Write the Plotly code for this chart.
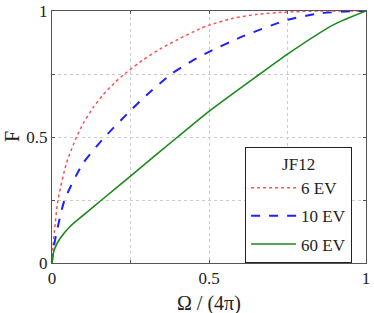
import plotly.graph_objects as go

x_6ev = [0, 0.003, 0.008, 0.019, 0.046, 0.078, 0.1, 0.13, 0.163, 0.2, 0.232, 0.29, 0.344, 0.402, 0.47, 0.5, 0.577, 0.65, 0.735, 0.85, 1]
y_6ev = [0, 0.06, 0.13, 0.25, 0.396, 0.5, 0.555, 0.615, 0.668, 0.716, 0.751, 0.806, 0.849, 0.888, 0.929, 0.944, 0.971, 0.986, 0.995, 1, 1]

x_10ev = [0, 0.003, 0.014, 0.04, 0.099, 0.168, 0.25, 0.3, 0.38, 0.45, 0.5, 0.609, 0.75, 0.85, 0.95, 1]
y_10ev = [0, 0.045, 0.117, 0.25, 0.396, 0.5, 0.605, 0.665, 0.75, 0.805, 0.838, 0.9, 0.965, 0.99, 0.999, 1]

x_60ev = [0, 0.003, 0.0085, 0.0245, 0.056, 0.1, 0.158, 0.25, 0.4, 0.5, 0.662, 0.75, 0.896, 1]
y_60ev = [0, 0.03, 0.057, 0.095, 0.143, 0.19, 0.25, 0.345, 0.5, 0.602, 0.75, 0.829, 0.945, 1]

tick_vals = [0, 0.25, 0.5, 0.75, 1]
tick_text = ["0", "", "0.5", "", "1"]

FONT = "Liberation Serif"

fig = go.Figure()
fig.add_trace(go.Scatter(x=x_6ev, y=y_6ev, mode="lines", name="6 EV", legendgroup="a",
                         line=dict(color="#ff5050", width=1.5, dash="dot", shape="spline", smoothing=0.6)))
fig.add_trace(go.Scatter(x=x_10ev, y=y_10ev, mode="lines", name="10 EV", legendgroup="b",
                         line=dict(color="#1f1fff", width=2, dash="dash", shape="spline", smoothing=0.6)))
fig.add_trace(go.Scatter(x=x_60ev, y=y_60ev, mode="lines", name="60 EV", legendgroup="c",
                         line=dict(color="#1a8a1a", width=1.6, shape="spline", smoothing=0.6)))

axis_common = dict(
    range=[0, 1], tickvals=tick_vals, ticktext=tick_text,
    showgrid=True, gridcolor="#cccccc", griddash="dot", gridwidth=1,
    showline=True, linecolor="#555555", linewidth=1, mirror="ticks",
    ticks="inside", ticklen=3, tickcolor="#555555",
    zeroline=False, automargin=False,
    tickfont=dict(family=FONT, size=17, color="#222"),
)

fig.update_layout(
    width=374, height=313,
    margin=dict(l=52, r=8, t=11, b=50),
    paper_bgcolor="white", plot_bgcolor="white",
    xaxis=dict(**axis_common),
    yaxis=dict(**axis_common),
    showlegend=True,
    legend=dict(
        x=0.615, y=0.46, xanchor="left", yanchor="top",
        bgcolor="white", bordercolor="#222", borderwidth=1,
        font=dict(family=FONT, size=17, color="#222"),
        title=dict(text="JF12", side="top center", font=dict(family=FONT, size=17, color="#222")),
        itemwidth=45, tracegroupgap=3,
    ),
    annotations=[
        dict(text="Ω / (4π)", xref="paper", yref="paper", x=0.5, y=0, yshift=-27,
             xanchor="center", yanchor="top", showarrow=False,
             font=dict(family=FONT, size=20, color="#222")),
        dict(text="F", xref="paper", yref="paper", x=0, xshift=-40, y=0.5,
             xanchor="center", yanchor="middle", textangle=-90, showarrow=False,
             font=dict(family=FONT, size=20, color="#222")),
    ],
)

fig.write_html("out.html", config={"displayModeBar": False},
               post_script="document.body.style.margin='0px';")
